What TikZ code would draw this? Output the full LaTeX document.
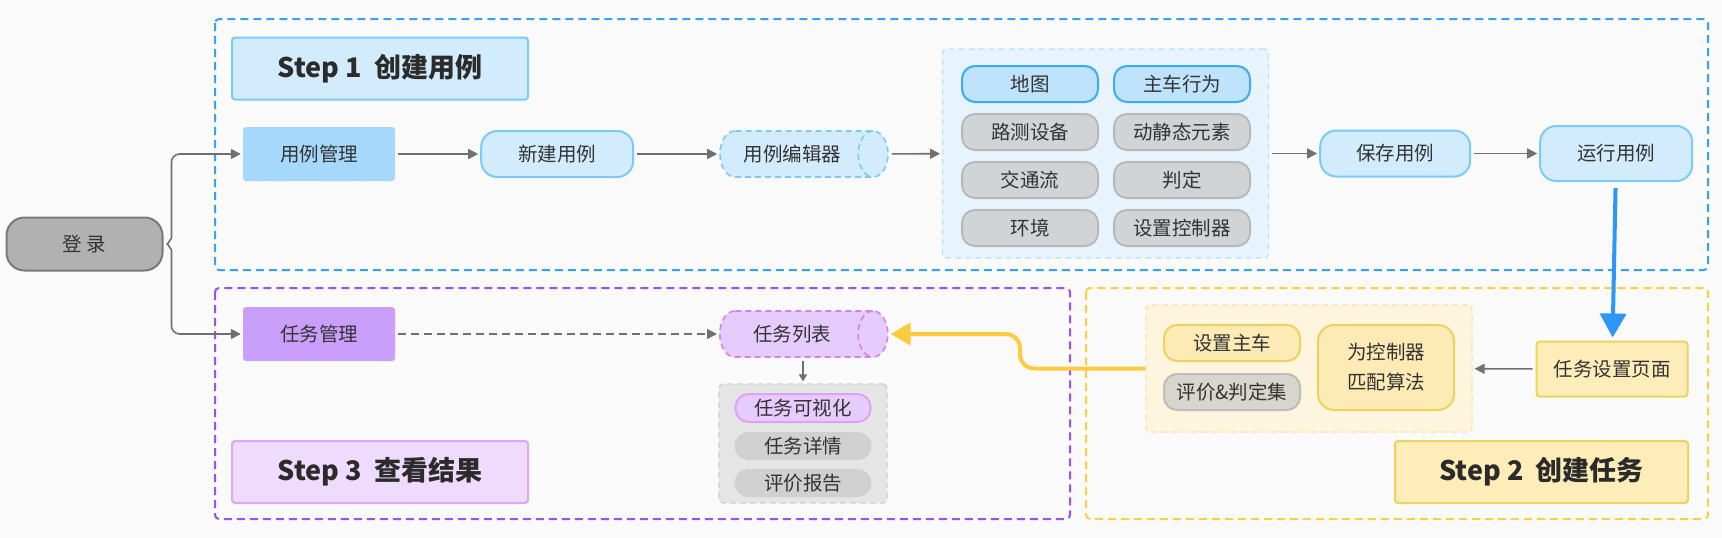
\documentclass[tikz,border=0pt]{standalone}
\usepackage{fontspec}
\setmainfont{Noto Sans CJK SC}
\usepackage{tikz}
\usetikzlibrary{arrows.meta,positioning,shapes.geometric}
\usepackage{xcolor}
\definecolor{bg}{HTML}{FAFAFA}
\definecolor{ink}{HTML}{333333}
\definecolor{titleink}{HTML}{2B2B2B}
\definecolor{arrgray}{HTML}{707070}
\definecolor{blueframe}{HTML}{3AA0F7}
\definecolor{bluefill}{HTML}{D3ECFD}
\definecolor{bluebd}{HTML}{7ACBFA}
\definecolor{ucmfill}{HTML}{A6D8FB}
\definecolor{grpfill}{HTML}{E8F4FD}
\definecolor{grpbd}{HTML}{B5E0FA}
\definecolor{mapfill}{HTML}{BFE3FD}
\definecolor{mapbd}{HTML}{3AABF5}
\definecolor{cellgray}{HTML}{D1D4D7}
\definecolor{cellbd}{HTML}{B8B8B8}
\definecolor{runarrow}{HTML}{2E96F8}
\definecolor{purpframe}{HTML}{9D4EFB}
\definecolor{purpfill}{HTML}{EEDBFD}
\definecolor{purpbd}{HTML}{E0A6F7}
\definecolor{tmfill}{HTML}{CA9FFB}
\definecolor{tlfill}{HTML}{E6CCFD}
\definecolor{tlbd}{HTML}{D480F5}
\definecolor{visbd}{HTML}{DFA1F8}
\definecolor{resfill}{HTML}{E5E5E5}
\definecolor{resbd}{HTML}{D0D0D0}
\definecolor{rescell}{HTML}{D0D0D0}
\definecolor{yelframe}{HTML}{FCD040}
\definecolor{yelfill}{HTML}{FEEDB9}
\definecolor{yelbd}{HTML}{EDD35E}
\definecolor{tgfill}{HTML}{FDF5DD}
\definecolor{tgbd}{HTML}{F7E3A3}
\definecolor{yelcell}{HTML}{FEEAB5}
\definecolor{evalfill}{HTML}{D8D6CC}
\definecolor{evalbd}{HTML}{BDBDBD}
\definecolor{yarrow}{HTML}{FDCB3D}
\definecolor{logingray}{HTML}{B1B1B1}
\definecolor{loginbd}{HTML}{7A7A7A}

\begin{document}
\begin{tikzpicture}[x=1pt,y=-1pt,
    txt/.style={text=ink,font=\fontsize{19.5}{22}\selectfont},
    solidbox/.style={rectangle,rounded corners=3pt,txt,
                     minimum width=152pt,minimum height=54pt},
    pill/.style={rectangle,rounded corners=16pt,draw=bluebd,fill=bluefill,
                 line width=2pt,txt,minimum width=152pt,minimum height=46pt},
    cyl/.style={cylinder,aspect=1.2,dash pattern=on 6pt off 4pt,line width=1.6pt,txt,
                minimum width=46pt,minimum height=168pt},
    cell/.style={rectangle,rounded corners=13pt,line width=2pt,txt,
                 minimum width=136pt,minimum height=36pt},
    grp/.style={rectangle,rounded corners=4pt,dash pattern=on 6pt off 4pt,line width=1.2pt},
    title/.style={rectangle,rounded corners=3pt,line width=2pt,
                  minimum width=296pt,minimum height=62pt,text=titleink,
                  font=\fontsize{27}{30}\selectfont\bfseries},
    frame/.style={rounded corners=4pt,line width=2pt,
                  dash pattern=on 8pt off 5pt},
    arr/.style={-{Triangle[length=10pt,width=10pt]},line width=1.6pt,
                draw=arrgray,shorten <=3pt,shorten >=2pt}
  ]
    \useasboundingbox[fill=bg] (0,0) rectangle (1722,538);

    \draw[frame,draw=blueframe] (215,19) rectangle (1708,270);
    \draw[frame,draw=purpframe] (215,288) rectangle (1070,519);
    \draw[frame,draw=yelframe] (1086,288) rectangle (1708,519);

    \node[title,fill=bluefill,draw=bluebd] (s1) at (380,68.5) {Step 1~~创建用例};
    \node[title,fill=purpfill,draw=purpbd] (s3) at (380,472) {Step 3~~查看结果};
    \node[title,fill=yelfill,draw=yelbd,minimum width=293pt] (s2) at (1541.5,472) {Step 2~~创建任务};

    \node[solidbox,fill=logingray,draw=loginbd,line width=2pt,rounded corners=18pt,
          minimum width=156pt,minimum height=53pt] (login) at (84.5,244) {登~录};

    \node[solidbox,fill=ucmfill] (ucm) at (319,154) {用例管理};
    \node[pill,right=85pt of ucm] (newc) {新建用例};
    \node[cyl,draw=bluebd,fill=bluefill,right=85pt of newc] (edit) {用例编辑器};
    \node[grp,draw=grpbd,fill=grpfill,minimum width=326pt,minimum height=209pt,
          anchor=west] (attr) at (942,153.5) {};
    \node[cell,fill=mapfill,draw=mapbd] (map) at (1030,84) {地图};
    \node[cell,fill=mapfill,draw=mapbd] (ego) at (1182,84) {主车行为};
    \node[cell,fill=cellgray,draw=cellbd] (rsu) at (1030,132) {路测设备};
    \node[cell,fill=cellgray,draw=cellbd] (obj) at (1182,132) {动静态元素};
    \node[cell,fill=cellgray,draw=cellbd] (flow) at (1030,180) {交通流};
    \node[cell,fill=cellgray,draw=cellbd] (judge) at (1182,180) {判定};
    \node[cell,fill=cellgray,draw=cellbd] (env) at (1030,228) {环境};
    \node[cell,fill=cellgray,draw=cellbd] (ctrl) at (1182,228) {设置控制器};
    \node[pill,minimum width=150pt,right=50pt of attr] (save) {保存用例};
    \node[pill,minimum height=55pt,right=68pt of save] (run) {运行用例};

    \node[solidbox,fill=tmfill] (tm) at (319,334) {任务管理};
    \node[cyl,draw=tlbd,fill=tlfill,anchor=west] (tlist) at (719,334) {任务列表};
    \node[grp,draw=resbd,fill=resfill,minimum width=168pt,minimum height=119pt] (res) at (803,443.5) {};
    \node[cell,fill=tlfill,draw=visbd,minimum width=135pt,minimum height=28pt] (vis) at (803,408) {任务可视化};
    \node[cell,fill=rescell,draw=rescell,minimum width=135pt,minimum height=26pt] (detail) at (803,446) {任务详情};
    \node[cell,fill=rescell,draw=rescell,minimum width=135pt,minimum height=26pt] (report) at (803,483) {评价报告};

    \node[rectangle,rounded corners=3pt,draw=yelbd,fill=yelfill,line width=2pt,txt,
          minimum width=151pt,minimum height=55pt] (page) at (1612,369) {任务设置页面};
    \node[grp,draw=tgbd,fill=tgfill,minimum width=326pt,minimum height=127pt] (tg) at (1309,368.5) {};
    \node[cell,fill=yelcell,draw=yelbd] (host) at (1232,343) {设置主车};
    \node[cell,fill=evalfill,draw=evalbd] (eval) at (1232,392) {评价\&判定集};
    \node[cell,fill=yelcell,draw=yelbd,minimum height=85pt,rounded corners=16pt,
          align=center,font=\fontsize{19.5}{30}\selectfont] (algo) at (1386,367.5) {为控制器\\匹配算法};

    \draw[arr] (login.east) -- ++(4,0) -- ++(4,-6) [rounded corners=8pt] |- (ucm.west);
    \draw[arr] (login.east) -- ++(4,0) -- ++(4,6) [rounded corners=8pt] |- (tm.west);
    \draw[arr] (ucm) -- (newc);
    \draw[arr] (newc) -- (edit);
    \draw[arr] (edit) -- (attr);
    \draw[arr] (attr) -- (save);
    \draw[arr] (save) -- (run);
    \draw[-{Triangle[length=24pt,width=26pt]},line width=4pt,draw=runarrow,
          shorten <=6pt,shorten >=3pt] (run) -- (page);
    \draw[arr] (page) -- (tg);
    \draw[-{Triangle[length=20pt,width=22pt]},line width=4pt,draw=yarrow,
          rounded corners=14pt,shorten >=2pt] (tg.west) -- (1020,368.5) |- (tlist.east);
    \draw[arr,dash pattern=on 8pt off 5pt] (tm) -- (tlist);
    \draw[arr,-{Triangle[length=7pt,width=8pt]}] (tlist.south -| res.north) -- (res);
  \end{tikzpicture}
\end{document}
